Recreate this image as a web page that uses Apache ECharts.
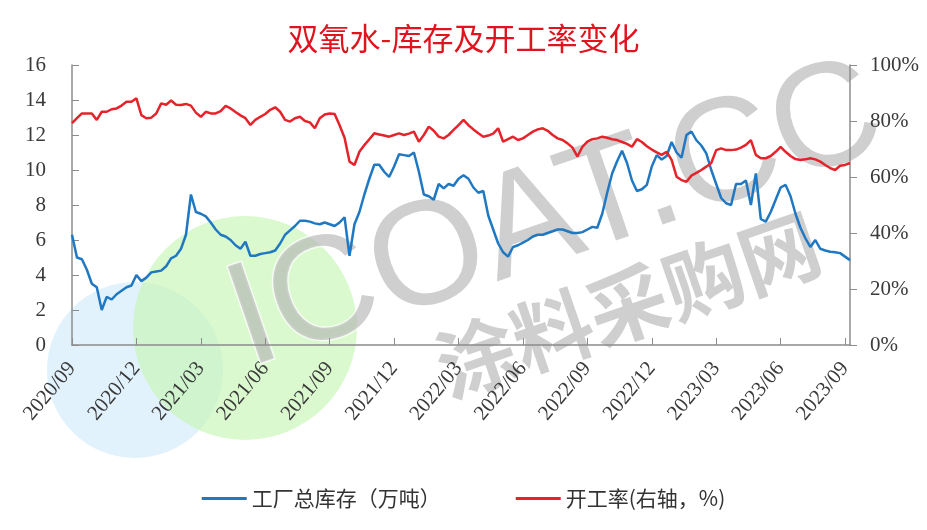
<!DOCTYPE html>
<html>
<head>
<meta charset="utf-8">
<script src="https://cdn.jsdelivr.net/npm/echarts@6/dist/echarts.min.js"></script>
<style>html,body{margin:0;padding:0;background:#fff;}#c{width:927px;height:530px;}</style>
</head>
<body>
<div id="c"></div>
<script>
const titleText = '双氧水-库存及开工率变化';
const seriesNames = ['工厂总库存（万吨）', '开工率(右轴，%)'];
const xTickLabels = ['2020/09','2020/12','2021/03','2021/06','2021/09','2021/12','2022/03','2022/06','2022/09','2022/12','2023/03','2023/06','2023/09'];
const leftTicks = [0, 16, 2];
const rightTicks = [0, 100, 20];

const categories = [
'2020/09/04','2020/09/11','2020/09/18','2020/09/25','2020/10/02','2020/10/09','2020/10/16','2020/10/23','2020/10/30','2020/11/06','2020/11/13','2020/11/20','2020/11/27','2020/12/04','2020/12/11','2020/12/18','2020/12/25',
'2021/01/01','2021/01/08','2021/01/15','2021/01/22','2021/01/29','2021/02/05','2021/02/12','2021/02/19','2021/02/26','2021/03/05','2021/03/12','2021/03/19','2021/03/26','2021/04/02','2021/04/09','2021/04/16','2021/04/23','2021/04/30','2021/05/07','2021/05/14','2021/05/21','2021/05/28','2021/06/04','2021/06/11','2021/06/18','2021/06/25','2021/07/02','2021/07/09','2021/07/16','2021/07/23','2021/07/30','2021/08/06','2021/08/13','2021/08/20','2021/08/27','2021/09/03','2021/09/10','2021/09/17','2021/09/24','2021/10/01','2021/10/08','2021/10/15','2021/10/22','2021/10/29','2021/11/05','2021/11/12','2021/11/19','2021/11/26','2021/12/03','2021/12/10','2021/12/17','2021/12/24','2021/12/31',
'2022/01/07','2022/01/14','2022/01/21','2022/01/28','2022/02/04','2022/02/11','2022/02/18','2022/02/25','2022/03/04','2022/03/11','2022/03/18','2022/03/25','2022/04/01','2022/04/08','2022/04/15','2022/04/22','2022/04/29','2022/05/06','2022/05/13','2022/05/20','2022/05/27','2022/06/03','2022/06/10','2022/06/17','2022/06/24','2022/07/01','2022/07/08','2022/07/15','2022/07/22','2022/07/29','2022/08/05','2022/08/12','2022/08/19','2022/08/26','2022/09/02','2022/09/09','2022/09/16','2022/09/23','2022/09/30','2022/10/07','2022/10/14','2022/10/21','2022/10/28','2022/11/04','2022/11/11','2022/11/18','2022/11/25','2022/12/02','2022/12/09','2022/12/16','2022/12/23','2022/12/30',
'2023/01/06','2023/01/13','2023/01/20','2023/01/27','2023/02/03','2023/02/10','2023/02/17','2023/02/24','2023/03/03','2023/03/10','2023/03/17','2023/03/24','2023/03/31','2023/04/07','2023/04/14','2023/04/21','2023/04/28','2023/05/05','2023/05/12','2023/05/19','2023/05/26','2023/06/02','2023/06/09','2023/06/16','2023/06/23','2023/06/30','2023/07/07','2023/07/14','2023/07/21','2023/07/28','2023/08/04','2023/08/11','2023/08/18','2023/08/25','2023/09/01','2023/09/08'
];

const inventory = [
6.3,5.0,4.9,4.3,3.5,3.3,2.0,2.75,2.6,2.9,
3.1,3.3,3.4,4.0,3.65,3.85,4.15,4.2,4.25,4.5,
4.95,5.1,5.5,6.3,8.6,7.6,7.5,7.35,7.0,6.6,
6.3,6.2,6.0,5.7,5.5,5.9,5.1,5.1,5.2,5.25,
5.3,5.4,5.8,6.3,6.55,6.8,7.1,7.1,7.05,6.95,
6.9,7.0,6.9,6.8,7.0,7.3,5.1,6.9,7.6,8.6,
9.5,10.3,10.3,9.9,9.6,10.2,10.9,10.85,10.8,11.0,
9.9,8.6,8.5,8.3,9.2,8.95,9.2,9.1,9.5,9.7,
9.5,9.0,8.7,8.8,7.4,6.6,5.8,5.3,5.05,5.6,
5.7,5.85,6.0,6.2,6.3,6.3,6.4,6.5,6.6,6.6,
6.5,6.4,6.4,6.45,6.6,6.75,6.7,7.5,8.7,9.8,
10.5,11.1,10.4,9.4,8.8,8.9,9.15,10.2,10.85,10.6,
10.8,11.6,11.0,10.7,12.0,12.2,11.7,11.4,10.95,10.0,
9.2,8.4,8.1,8.0,9.2,9.2,9.4,8.0,9.8,7.2,
7.05,7.6,8.3,9.0,9.15,8.5,7.5,6.7,6.1,5.6,
6.0,5.5,5.4,5.33,5.3,5.25,5.05,4.85
];

const operatingRate = [
79.2,81,82.7,82.7,82.7,80.4,83.3,83.3,84.2,84.5,
85.5,86.9,86.9,88.1,82.1,81.0,81.2,82.7,86.3,85.8,
87.3,85.8,85.7,86.1,85.5,83,81.5,83.3,82.7,82.7,
83.5,85.4,84.5,83.2,82,81,78.6,80.4,81.5,82.5,
84,84.9,83.3,80.4,79.8,81,81.5,80,79.5,77.4,
81.0,82.3,82.7,82.5,78.5,74,65.5,64.3,69,71.4,
73.5,75.6,75.2,74.8,74.4,75.0,75.6,75.0,75.5,76.2,
72.6,75,78,76.5,74.4,73.8,75,76.8,78.5,80.4,
78.5,77,75.6,74.4,74.8,75.5,77.4,72.6,73.5,74.4,
73.2,73.8,75,76.2,77,77.4,76.5,75,73.8,73.2,
72,70.5,67.3,70.8,72.6,73.5,73.8,74.4,74,73.5,
73.2,72.5,71.8,70.8,73.5,72.5,71,69.8,68.8,67.9,
69,66.1,60.1,58.9,58.3,60.5,61.5,62.5,63.7,65,
69.6,70.2,69.6,69.6,69.8,70.5,71.5,73.2,67.9,66.7,
66.7,67.5,69,70.8,69,67.5,66.4,66.1,66.3,66.7,
66.3,65.5,64.3,63.2,62.5,64,64.3,65
];

const watermarkMain = 'ICOAT.CC';
const watermarkSub = '涂料采购网';

const serif = '"Liberation Serif", "DejaVu Serif", serif';
const cjk = '"Noto Sans CJK SC", sans-serif';
const axisGray = '#8c8c8c';
const labelColor = '#3a3a3a';
const blue = '#1f78c1';
const red = '#e5232b';

const chart = echarts.init(document.getElementById('c'), null, {renderer: 'canvas'});
const rotMain = 19 * Math.PI / 180;
const rotSub = 19 * Math.PI / 180;
chart.setOption({
  animation: false,
  backgroundColor: '#ffffff',
  title: {
    text: titleText,
    left: 'center',
    top: 18,
    textStyle: {color: '#e0141e', fontFamily: cjk, fontSize: 31, fontWeight: 'normal'}
  },
  graphic: [
    {type: 'circle', z: -20, silent: true, shape: {cx: 135, cy: 370, r: 88}, style: {fill: 'rgba(205,233,250,0.6)'}},
    {type: 'circle', z: -19, silent: true, shape: {cx: 245, cy: 328, r: 112}, style: {fill: 'rgba(195,245,175,0.6)'}},
    {type: 'text', z: -18, silent: true, x: 556, y: 218, rotation: rotMain,
      style: {text: watermarkMain, fontSize: 148, fontFamily: '"Liberation Sans", Arial, sans-serif', fontWeight: 'normal',
        fill: 'rgba(175,175,175,0.6)', align: 'center', verticalAlign: 'middle', stroke: 'rgba(255,255,255,0.7)', lineWidth: 3}},
    {type: 'text', z: -18, silent: true, x: 628, y: 305, rotation: rotSub,
      style: {text: watermarkSub, fontSize: 80, fontFamily: cjk, fontWeight: 'bold',
        fill: 'rgba(175,175,175,0.6)', align: 'center', verticalAlign: 'middle'}}
  ],
  legend: {
    bottom: 16,
    left: 'center',
    itemWidth: 45,
    itemHeight: 3,
    itemGap: 75,
    icon: 'rect',
    textStyle: {fontFamily: cjk, fontSize: 21, color: '#333'},
    data: seriesNames
  },
  grid: {left: 72, right: 77, top: 65, bottom: 185, containLabel: false},
  xAxis: {
    type: 'category',
    data: categories,
    boundaryGap: false,
    axisLine: {show: true, lineStyle: {color: axisGray, width: 1.5}},
    axisTick: {show: true, inside: true, length: 7, interval: 12, lineStyle: {color: axisGray}},
    axisLabel: {
      interval: 12, rotate: 50, margin: 20,
      fontFamily: serif, fontSize: 21, color: labelColor,
      formatter: function (v, i) { return xTickLabels[Math.round(i / 13)] || ''; }
    },
    splitLine: {show: false}
  },
  yAxis: [
    {
      type: 'value', min: leftTicks[0], max: leftTicks[1], interval: leftTicks[2],
      axisLine: {show: true, lineStyle: {color: axisGray, width: 1.5}},
      axisTick: {show: true, inside: true, length: 7, lineStyle: {color: axisGray}},
      axisLabel: {fontFamily: serif, fontSize: 21, color: labelColor, margin: 26},
      splitLine: {show: false}
    },
    {
      type: 'value', min: rightTicks[0], max: rightTicks[1], interval: rightTicks[2], position: 'right',
      axisLine: {show: true, lineStyle: {color: axisGray, width: 1.5}},
      axisTick: {show: true, inside: false, length: 7, lineStyle: {color: axisGray}},
      axisLabel: {fontFamily: serif, fontSize: 21, color: labelColor, margin: 20, formatter: '{value}%'},
      splitLine: {show: false}
    }
  ],
  series: [
    {name: seriesNames[0], type: 'line', yAxisIndex: 0, data: inventory, symbol: 'none', smooth: false,
      lineStyle: {color: blue, width: 2.5}, itemStyle: {color: blue}, z: 3},
    {name: seriesNames[1], type: 'line', yAxisIndex: 1, data: operatingRate, symbol: 'none', smooth: false,
      lineStyle: {color: red, width: 2.5}, itemStyle: {color: red}, z: 3}
  ]
});
</script>
</body>
</html>
